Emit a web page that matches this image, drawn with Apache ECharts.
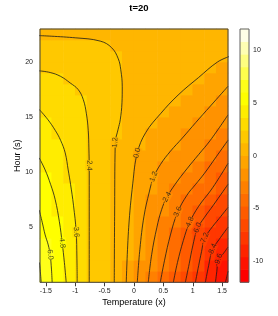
<!DOCTYPE html>
<html><head><meta charset="utf-8">
<script src="https://cdn.jsdelivr.net/npm/echarts@6/dist/echarts.min.js"></script>
<style>html,body{margin:0;padding:0;background:#fff}#c{width:278px;height:316px}</style>
</head><body><div id="c"></div>
<script>
// ---- data ----
const xCenters = [-1.5,-1.3,-1.1,-0.9,-0.7,-0.5,-0.3,-0.1,0.1,0.3,0.5,0.7,0.9,1.1,1.3,1.5];
const hourCenters = [0.5,1.5,2.5,3.5,4.5,5.5,6.5,7.5,8.5,9.5,10.5,11.5,12.5,13.5,14.5,15.5,16.5,17.5,18.5,19.5,20.5,21.5,22.5];
const xTicks = [-1.5,-1,-0.5,0,0.5,1,1.5];
const yTicks = [5,10,15,20];
const barTicks = [-10,-5,0,5,10];
const levels = [-12,-10.8,-9.6,-8.4,-7.2,-6,-4.8,-3.6,-2.4,-1.2,0,1.2,2.4,3.6,4.8,6,7.2,8.4,9.6,10.8,12];
// z values, one row per hour (bottom row first), one value per x centre
const z00 = [6.64,5.49,4.41,3.20,2.23,1.66,1.00,-0.15,-1.39,-2.61,-3.75,-4.83,-6.04,-7.45,-8.88,-10.28];
const z01 = [6.54,5.41,4.33,3.18,2.23,1.67,1.02,-0.05,-1.21,-2.38,-3.50,-4.56,-5.77,-7.18,-8.60,-10.18];
const z02 = [6.39,5.32,4.26,3.17,2.23,1.67,1.04,0.04,-1.05,-2.16,-3.25,-4.30,-5.48,-6.89,-8.29,-9.51];
const z03 = [6.12,5.17,4.20,3.16,2.23,1.67,1.05,0.11,-0.91,-1.95,-3.02,-4.06,-5.17,-6.59,-7.83,-8.96];
const z04 = [5.91,5.02,4.12,3.15,2.23,1.67,1.06,0.18,-0.78,-1.77,-2.79,-3.82,-4.81,-6.21,-7.31,-8.24];
const z05 = [5.72,4.88,4.01,3.08,2.23,1.67,1.07,0.24,-0.67,-1.61,-2.57,-3.59,-4.54,-5.65,-6.65,-7.63];
const z06 = [5.56,4.75,3.90,3.02,2.23,1.67,1.08,0.29,-0.57,-1.46,-2.37,-3.30,-4.12,-4.92,-6.06,-6.94];
const z07 = [5.44,4.63,3.79,2.97,2.23,1.67,1.09,0.33,-0.47,-1.32,-2.19,-2.93,-3.63,-4.41,-5.35,-6.42];
const z08 = [5.15,4.42,3.68,2.92,2.23,1.68,1.10,0.38,-0.39,-1.19,-1.84,-2.49,-3.18,-3.92,-4.71,-5.75];
const z09 = [4.91,4.25,3.59,2.89,2.23,1.68,1.11,0.42,-0.31,-1.08,-1.62,-2.11,-2.70,-3.42,-4.21,-5.06];
const z10 = [4.68,4.10,3.50,2.85,2.23,1.68,1.12,0.45,-0.18,-0.73,-1.28,-1.77,-2.26,-2.93,-3.68,-4.53];
const z11 = [4.50,4.00,3.41,2.80,2.22,1.68,1.12,0.48,-0.10,-0.54,-0.97,-1.43,-1.91,-2.39,-3.17,-3.95];
const z12 = [4.29,3.77,3.25,2.73,2.21,1.68,1.15,0.65,0.14,-0.29,-0.70,-1.12,-1.58,-2.06,-2.63,-3.41];
const z13 = [4.00,3.56,3.12,2.67,2.21,1.72,1.24,0.82,0.40,-0.01,-0.41,-0.82,-1.23,-1.72,-2.21,-2.77];
const z14 = [3.72,3.34,2.96,2.59,2.18,1.75,1.32,0.96,0.62,0.28,-0.08,-0.48,-0.89,-1.32,-1.85,-2.38];
const z15 = [3.46,3.15,2.83,2.51,2.14,1.74,1.35,1.02,0.74,0.46,0.18,-0.14,-0.55,-0.96,-1.42,-1.96];
const z16 = [3.09,2.87,2.66,2.44,2.10,1.73,1.36,1.06,0.83,0.59,0.35,0.12,-0.21,-0.62,-1.03,-1.45];
const z17 = [2.81,2.65,2.49,2.25,1.95,1.65,1.35,1.09,0.89,0.68,0.48,0.27,0.07,-0.27,-0.69,-1.10];
const z18 = [2.54,2.44,2.25,2.01,1.78,1.54,1.30,1.09,0.92,0.74,0.56,0.39,0.21,0.03,-0.33,-0.73];
const z19 = [2.30,2.20,2.05,1.85,1.65,1.45,1.25,1.09,0.93,0.78,0.62,0.47,0.31,0.16,0.01,-0.32];
const z20 = [1.91,1.85,1.75,1.60,1.45,1.35,1.24,1.09,0.96,0.84,0.71,0.58,0.45,0.33,0.20,0.07];
const z21 = [1.54,1.48,1.42,1.36,1.29,1.22,1.10,1.00,0.90,0.80,0.70,0.61,0.52,0.45,0.37,0.30];
const z22 = [1.12,1.10,1.08,1.05,1.02,0.98,0.93,0.88,0.83,0.78,0.72,0.67,0.62,0.57,0.52,0.47];
const zRows = [z00,z01,z02,z03,z04,z05,z06,z07,z08,z09,z10,z11,z12,z13,z14,z15,z16,z17,z18,z19,z20,z21,z22];

// contour lines: [x, hour]
const cP72 = [[-1.58,0],[-1.595,1.0],[-1.61,1.8]];
const cP60 = [[-1.393,0],[-1.405,1.2],[-1.427,2.5],[-1.46,3.4],[-1.512,4.3],[-1.56,5.4],[-1.614,6.57]];
const cP48 = [[-1.154,0],[-1.185,1.8],[-1.222,3.57],[-1.27,5.5],[-1.341,7.5],[-1.42,8.9],[-1.512,10.2],[-1.614,11.3]];
const cP36 = [[-0.967,0],[-0.972,2.3],[-0.984,4.57],[-1.03,7.0],[-1.08,8.9],[-1.12,10.2],[-1.171,11.75],[-1.25,12.9],[-1.341,13.8],[-1.47,14.8],[-1.614,15.7]];
const cP24 = [[-0.762,0],[-0.762,5],[-0.762,10.2],[-0.768,12.2],[-0.779,13.8],[-0.81,15.3],[-0.864,16.6],[-0.95,17.5],[-1.086,18.1],[-1.25,18.7],[-1.427,19.05],[-1.614,19.2]];
const cP12 = [[-0.336,0],[-0.33,6],[-0.319,12.66],[-0.27,13.9],[-0.234,14.75],[-0.205,16.3],[-0.2,17.75],[-0.225,19.3],[-0.268,20.3],[-0.38,21.3],[-0.574,21.9],[-1.0,22.2],[-1.614,22.4]];
const cZ00 = [[-0.132,0],[-0.09,5],[-0.02,9],[0.056,11.75],[0.2,13.6],[0.45,15.3],[0.75,17.0],[1.1,18.6],[1.42,20.0],[1.62,20.5]];
const cM12 = [[0.056,0],[0.10,3],[0.17,6],[0.26,8.2],[0.329,9.48],[0.45,10.7],[0.62,11.9],[0.823,13.1],[1.05,14.5],[1.3,16.0],[1.6,17.8]];
const cM24 = [[0.243,0],[0.30,2.5],[0.39,5],[0.47,6.6],[0.554,7.66],[0.7,8.9],[0.9,10.3],[1.1,11.6],[1.30,12.9],[1.6,15.2]];
const cM36 = [[0.448,0],[0.52,2],[0.62,4.3],[0.738,6.3],[0.9,7.9],[1.05,8.9],[1.2,9.9],[1.4,11.4],[1.6,12.9]];
const cM48 = [[0.67,0],[0.74,1.8],[0.84,3.8],[0.943,5.39],[1.1,6.9],[1.3,8.3],[1.45,9.5],[1.6,10.8]];
const cM60 = [[0.874,0],[0.94,1.7],[1.0,3.3],[1.078,4.85],[1.2,5.9],[1.35,7.0],[1.6,8.9]];
const cM72 = [[1.045,0],[1.1,1.5],[1.15,2.8],[1.198,3.94],[1.3,4.8],[1.45,5.8],[1.6,6.8]];
const cM84 = [[1.215,0],[1.27,1.5],[1.334,2.94],[1.45,3.9],[1.6,5.0]];
const cM96 = [[1.386,0],[1.41,1.0],[1.436,2.03],[1.52,2.6],[1.6,3.2]];
const cM108 = [[1.556,0],[1.58,0.5],[1.6,1.0]];
const contourLevels = [7.2,6.0,4.8,3.6,2.4,1.2,0.0,-1.2,-2.4,-3.6,-4.8,-6.0,-7.2,-8.4,-9.6,-10.8];
const contourPaths = [cP72,cP60,cP48,cP36,cP24,cP12,cZ00,cM12,cM24,cM36,cM48,cM60,cM72,cM84,cM96,cM108];
// contour label anchors: [x, hour, level]
const labelPoints = [[-1.427,2.5,6.0],[-1.222,3.57,4.8],[-0.984,4.57,3.6],[-0.762,10.6,2.4],[-0.319,12.7,1.2],
  [0.056,11.75,0.0],[0.329,9.48,-1.2],[0.554,7.66,-2.4],[0.738,6.3,-3.6],[0.943,5.39,-4.8],[1.078,4.85,-6.0],
  [1.198,3.94,-7.2],[1.334,2.94,-8.4],[1.436,2.03,-9.6]];

// ---- styling helpers ----
function heatColors(n){
  const j = Math.floor(n/4), i = n - j, out = [];
  for (let k=0;k<i;k++) out.push('rgb(255,'+Math.round(255*k/(i-1))+',0)');
  const s0 = 1-1/(2*j), s1 = 1/(2*j);
  for (let k=0;k<j;k++){ const s = s0 + (s1-s0)*k/(j-1); out.push('rgb(255,255,'+Math.round(255*(1-s))+')'); }
  return out;
}
const palette = heatColors(levels.length-1);
function colorOf(v){
  let idx = 0;
  for (let i=0;i<levels.length-1;i++) if (v >= levels[i]) idx = i;
  return palette[idx];
}
const halfW = (xCenters[1]-xCenters[0])/2, halfH = (hourCenters[1]-hourCenters[0])/2;
const cellData = [];
zRows.forEach((row,r)=>row.forEach((v,c)=>cellData.push([xCenters[c],hourCenters[r],v])));
function cellAt(x,h){
  let c=0,r=0;
  xCenters.forEach((xc,i)=>{ if (Math.abs(xc-x)<=halfW) c=i; });
  hourCenters.forEach((hc,i)=>{ if (Math.abs(hc-h)<=halfH) r=i; });
  return zRows[r][c];
}
const barData = [];
for (let i=0;i<levels.length-1;i++) barData.push([levels[i],levels[i+1]]);

const FONT = 'Liberation Sans, Arial, sans-serif';
const AX = '#404040';
const chart = echarts.init(document.getElementById('c'), null, {renderer:'canvas'});

function labelSeries(rots){
  return {
    type:'scatter', xAxisIndex:0, yAxisIndex:0, symbolSize:0.1, z:5,
    itemStyle:{color:'rgba(0,0,0,0)'},
    data: labelPoints.map((p,i)=>({
      value:[p[0],p[1]],
      label:{show:true, position:'inside', formatter:p[2].toFixed(1), rotate: rots ? rots[i] : 0,
        fontSize:7.5, fontFamily:FONT, color:'#1a1a1a', backgroundColor: colorOf(cellAt(p[0],p[1])), padding:[0,0]}
    })),
    silent:true, animation:false
  };
}

const option = {
  animation:false,
  title:{text:'t=20', left:'center', top:3, padding:0, textStyle:{fontSize:9.5, fontWeight:'bold', fontFamily:FONT, color:'#000'}},
  grid:[
    {left:40, top:29, width:188, height:253.3, show:true, borderColor:AX, borderWidth:1, backgroundColor:'transparent', z:10},
    {left:240, top:29, width:9, height:253.3, show:true, borderColor:'#606060', borderWidth:1, backgroundColor:'transparent', z:10}
  ],
  xAxis:[
    {type:'value', gridIndex:0, min:-1.6, max:1.6, position:'bottom',
      axisLine:{show:false}, splitLine:{show:false},
      axisTick:{show:true, length:4, customValues:xTicks, lineStyle:{color:AX}},
      axisLabel:{customValues:xTicks, fontSize:7, fontFamily:FONT, color:'#222', margin:5},
      name:'Temperature (x)', nameLocation:'middle', nameGap:16, nameMoveOverlap:false,
      nameTextStyle:{fontSize:9, fontFamily:FONT, color:'#000'}},
    {type:'value', gridIndex:0, min:-1.6, max:1.6, position:'top',
      axisLine:{show:false}, splitLine:{show:false},
      axisTick:{show:true, length:4, customValues:xTicks, lineStyle:{color:AX}},
      axisLabel:{show:false}},
    {type:'value', gridIndex:1, min:0, max:1, show:false}
  ],
  yAxis:[
    {type:'value', gridIndex:0, min:0, max:23, position:'left',
      axisLine:{show:false}, splitLine:{show:false},
      axisTick:{show:true, length:4, customValues:yTicks, lineStyle:{color:AX}},
      axisLabel:{customValues:yTicks, fontSize:7, fontFamily:FONT, color:'#222', margin:7},
      name:'Hour (s)', nameLocation:'middle', nameGap:18, nameMoveOverlap:false,
      nameTextStyle:{fontSize:9, fontFamily:FONT, color:'#000'}},
    {type:'value', gridIndex:0, min:0, max:23, position:'right',
      axisLine:{show:false}, splitLine:{show:false},
      axisTick:{show:true, length:4, customValues:yTicks, lineStyle:{color:AX}},
      axisLabel:{show:false}},
    {type:'value', gridIndex:1, min:-12, max:12, position:'right',
      axisLine:{show:false}, splitLine:{show:false},
      axisTick:{show:true, length:3, customValues:barTicks, lineStyle:{color:AX}},
      axisLabel:{customValues:barTicks, fontSize:7, fontFamily:FONT, color:'#222', margin:4}}
  ],
  series:[
    {type:'custom', xAxisIndex:0, yAxisIndex:0, data:cellData, silent:true,
      renderItem:function(params, api){
        const x = api.value(0), h = api.value(1), v = api.value(2);
        const p0 = api.coord([x-halfW, h+halfH]);
        const p1 = api.coord([x+halfW, h-halfH]);
        return {type:'rect', shape:{x:p0[0]-0.3, y:p0[1]-0.3, width:p1[0]-p0[0]+0.6, height:p1[1]-p0[1]+0.6},
          style:{fill:colorOf(v)}};
      }},
    {type:'custom', xAxisIndex:2, yAxisIndex:2, data:barData, silent:true,
      renderItem:function(params, api){
        const lo = api.value(0), hi = api.value(1);
        const p0 = api.coord([0, hi]);
        const p1 = api.coord([1, lo]);
        return {type:'rect', shape:{x:p0[0], y:p0[1]-0.3, width:p1[0]-p0[0], height:p1[1]-p0[1]+0.6},
          style:{fill:colorOf((lo+hi)/2)}};
      }}
  ].concat(contourPaths.map((path,i)=>({
      type:'line', xAxisIndex:0, yAxisIndex:0, data:path, smooth:0.4, symbol:'none', silent:true, z:3,
      lineStyle:{color:'#1a1a1a', width:0.8}, clip:true
    }))).concat([labelSeries(null)])
};
chart.setOption(option);

// orient contour labels along their lines
const rots = labelPoints.map(p=>{
  const path = contourPaths[contourLevels.indexOf(p[2])];
  let best=0, bd=Infinity;
  path.forEach((q,i)=>{ const d=(q[0]-p[0])**2+((q[1]-p[1])/12)**2; if(d<bd){bd=d;best=i;} });
  const a = chart.convertToPixel({gridIndex:0}, path[Math.max(best-1,0)]);
  const b = chart.convertToPixel({gridIndex:0}, path[Math.min(best+1,path.length-1)]);
  let ang = Math.atan2(-(b[1]-a[1]), b[0]-a[0])*180/Math.PI;
  if (ang > 90) ang -= 180; if (ang <= -90) ang += 180;
  return ang;
});
const series = option.series.slice(0,-1).concat([labelSeries(rots)]);
chart.setOption({series:series});
</script></body></html>
